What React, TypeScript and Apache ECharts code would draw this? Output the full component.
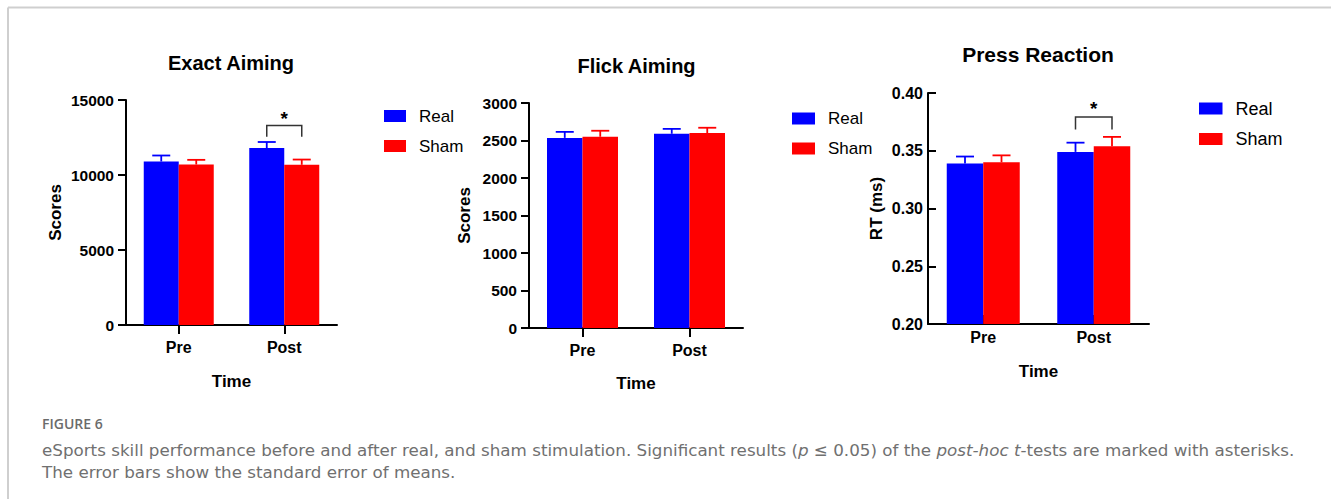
import React, { useEffect, useRef } from "react";
import * as echarts from "echarts";

const categories = ["Pre", "Post"];
const seriesNames = ["Real", "Sham"];

// Exact Aiming
const exactReal = [10900, 11800];
const exactRealSE = [400, 400];
const exactSham = [10700, 10680];
const exactShamSE = [310, 350];
// Flick Aiming
const flickReal = [2535, 2590];
const flickRealSE = [80, 65];
const flickSham = [2550, 2600];
const flickShamSE = [80, 70];
// Press Reaction
const pressReal = [0.339, 0.349];
const pressRealSE = [0.006, 0.008];
const pressSham = [0.34, 0.354];
const pressShamSE = [0.006, 0.008];

// significance brackets: [categoryIndex, bottom, top, asteriskLevel]
const exactBracket = [1, 12550, 13300, 13800];
const pressBracket = [1, 0.3684, 0.3793, 0.3868];

const titles = ["Exact Aiming", "Flick Aiming", "Press Reaction"];
const yNames = ["Scores", "Scores", "RT (ms)"];
const xName = "Time";

const captionLabel = "FIGURE 6";
const captionLine1Plain =
  "eSports skill performance before and after real, and sham stimulation. Significant results (p ≤ 0.05) of the post-hoc t-tests are marked with asterisks.";
const captionLine1Rich =
  "eSports skill performance before and after real, and sham stimulation. Significant results ({i|p} ≤ 0.05) of the {i|post-hoc} {i|t}-tests are marked with asterisks.";
const captionLine2 = "The error bars show the standard error of means.";

const FONT = '"Liberation Sans", Arial, Helvetica, sans-serif';
const CAP_FONT = '"DejaVu Sans", "Open Sans", sans-serif';
const BLUE = "#0000FF";
const RED = "#FF0000";

function fitCaptionSize(): number {
  try {
    const c = document.createElement("canvas");
    const ctx = c.getContext("2d");
    if (!ctx) return 16;
    ctx.font = '16px "DejaVu Sans"';
    const w = ctx.measureText(captionLine1Plain).width;
    if (!w) return 16;
    const fs = (16 * 1253) / w;
    return Math.max(14, Math.min(18, fs));
  } catch (e) {
    return 16;
  }
}

export default function App() {
  const ref = useRef<HTMLDivElement>(null);

  useEffect(() => {
    if (!ref.current) return;
    const chart = echarts.init(ref.current, undefined, { renderer: "svg" });
    const capFs = fitCaptionSize();

    const grids = [
      { left: 126, top: 100, width: 211, height: 225 },
      { left: 529, top: 103, width: 214, height: 225 },
      { left: 928, top: 93, width: 221, height: 231 },
    ];
    const barWidths = [35, 35.5, 36.5];
    const yCfg = [
      { min: 0, max: 15000, interval: 5000, fs: 15.5, margin: 12, inside: false, nameGap: 62, fmt: (v: number) => String(v) },
      { min: 0, max: 3000, interval: 500, fs: 15.5, margin: 12, inside: false, nameGap: 56, fmt: (v: number) => String(v) },
      { min: 0.2, max: 0.4, interval: 0.05, fs: 16, margin: 5, inside: true, nameGap: 43, fmt: (v: number) => v.toFixed(2) },
    ];
    const xCfg = [
      { margin: 14, nameGap: 48, inside: false },
      { margin: 14, nameGap: 47, inside: false },
      { margin: 5, nameGap: 39, inside: true },
    ];
    const realData = [exactReal, flickReal, pressReal];
    const realSE = [exactRealSE, flickRealSE, pressRealSE];
    const shamData = [exactSham, flickSham, pressSham];
    const shamSE = [exactShamSE, flickShamSE, pressShamSE];

    const xAxis = grids.map((_, i) => ({
      type: "category",
      gridIndex: i,
      data: categories,
      axisLine: { show: true, lineStyle: { color: "#000", width: 2 } },
      axisTick: { show: true, alignWithLabel: true, length: 9, inside: xCfg[i].inside, lineStyle: { color: "#000", width: 2 } },
      axisLabel: { fontSize: 16, fontWeight: "bold", color: "#000", fontFamily: FONT, margin: xCfg[i].margin },
      name: xName,
      nameLocation: "middle",
      nameGap: xCfg[i].nameGap,
      nameTextStyle: { fontSize: 17, fontWeight: "bold", color: "#000", fontFamily: FONT },
    }));

    const yAxis = grids.map((_, i) => ({
      type: "value",
      gridIndex: i,
      min: yCfg[i].min,
      max: yCfg[i].max,
      interval: yCfg[i].interval,
      splitLine: { show: false },
      axisLine: { show: true, lineStyle: { color: "#000", width: 2 } },
      axisTick: { show: true, length: 8, inside: yCfg[i].inside, lineStyle: { color: "#000", width: 2 } },
      axisLabel: {
        fontSize: yCfg[i].fs,
        fontWeight: "bold",
        color: "#000",
        fontFamily: FONT,
        margin: yCfg[i].margin,
        formatter: yCfg[i].fmt,
      },
      name: yNames[i],
      nameLocation: "middle",
      nameGap: yCfg[i].nameGap,
      nameTextStyle: { fontSize: 17, fontWeight: "bold", color: "#000", fontFamily: FONT },
    }));

    const series: any[] = [];
    grids.forEach((_, i) => {
      const bw = barWidths[i];
      series.push({
        type: "bar",
        name: seriesNames[0],
        xAxisIndex: i,
        yAxisIndex: i,
        data: realData[i],
        barWidth: bw,
        barGap: "0%",
        itemStyle: { color: BLUE },
      });
      series.push({
        type: "bar",
        name: seriesNames[1],
        xAxisIndex: i,
        yAxisIndex: i,
        data: shamData[i],
        barWidth: bw,
        barGap: "0%",
        itemStyle: { color: RED },
      });
      const mkErr = (vals: number[], ses: number[], color: string, offset: number) => ({
        type: "custom",
        name: "err",
        xAxisIndex: i,
        yAxisIndex: i,
        z: 5,
        data: vals.map((v, k) => [k, v, ses[k]]),
        renderItem: (_p: any, api: any) => {
          const k = api.value(0);
          const v = api.value(1);
          const se = api.value(2);
          const b = api.coord([k, v]);
          const t = api.coord([k, v + se]);
          const cx = b[0] + offset;
          return {
            type: "group",
            children: [
              { type: "line", shape: { x1: cx, y1: b[1], x2: cx, y2: t[1] }, style: { stroke: color, lineWidth: 1.8 } },
              { type: "line", shape: { x1: cx - 9, y1: t[1], x2: cx + 9, y2: t[1] }, style: { stroke: color, lineWidth: 1.8 } },
            ],
          };
        },
      });
      series.push(mkErr(realData[i], realSE[i], BLUE, -bw / 2));
      series.push(mkErr(shamData[i], shamSE[i], RED, bw / 2));
    });

    const mkBracket = (gi: number, br: number[]) => ({
      type: "custom",
      name: "sig",
      xAxisIndex: gi,
      yAxisIndex: gi,
      z: 6,
      data: [br],
      renderItem: (_p: any, api: any) => {
        const bw = barWidths[gi];
        const k = api.value(0);
        const b = api.coord([k, api.value(1)]);
        const t = api.coord([k, api.value(2)]);
        const s = api.coord([k, api.value(3)]);
        const xl = b[0] - bw / 2;
        const xr = b[0] + bw / 2;
        return {
          type: "group",
          children: [
            {
              type: "polyline",
              shape: { points: [[xl, b[1]], [xl, t[1]], [xr, t[1]], [xr, b[1]]] },
              style: { stroke: "#333", lineWidth: 1.5, fill: "none" },
            },
            {
              type: "text",
              x: b[0],
              y: s[1],
              style: { text: "*", fontSize: 19, fontWeight: "bold", fontFamily: FONT, fill: "#000", align: "center", verticalAlign: "middle" },
            },
          ],
        };
      },
    });
    series.push(mkBracket(0, exactBracket));
    series.push(mkBracket(2, pressBracket));

    const legendPos = [
      { left: 384, top: 107.5, fs: 17, w: 22, gap: 13 },
      { left: 792, top: 110, fs: 17, w: 23, gap: 13 },
      { left: 1199, top: 99.5, fs: 18, w: 23.5, gap: 12.5 },
    ];
    const legend = legendPos.map((p) => ({
      orient: "vertical",
      left: p.left,
      top: p.top,
      padding: 0,
      itemWidth: p.w,
      itemHeight: 12,
      itemGap: p.gap,
      icon: "rect",
      selectedMode: false,
      data: seriesNames,
      textStyle: { fontSize: p.fs, color: "#000", fontFamily: FONT, padding: [0, 0, 0, 8] },
    }));

    const titlePos = [
      { x: 231, y: 63, fs: 20 },
      { x: 636.5, y: 66, fs: 20 },
      { x: 1038, y: 54.5, fs: 21 },
    ];

    const capColor = "#707070";
    const graphic: any[] = [
      { type: "line", shape: { x1: 8, y1: 7.5, x2: 1331, y2: 7.5 }, style: { stroke: "#cfcfcf", lineWidth: 2 } },
      { type: "line", shape: { x1: 8, y1: 7.5, x2: 8, y2: 499 }, style: { stroke: "#cfcfcf", lineWidth: 2 } },
      ...titles.map((t, i) => ({
        type: "text",
        x: titlePos[i].x,
        y: titlePos[i].y,
        style: {
          text: t,
          fontSize: titlePos[i].fs,
          fontWeight: "bold",
          fontFamily: FONT,
          fill: "#000",
          align: "center",
          verticalAlign: "middle",
        },
      })),
      {
        type: "text",
        x: 42,
        y: 423,
        style: { text: captionLabel, fontSize: 14, fontWeight: 600, fontFamily: '"Open Sans", sans-serif', fill: "#6b6b6b", verticalAlign: "middle" },
      },
      {
        type: "text",
        x: 42,
        y: 450,
        style: {
          text: captionLine1Rich,
          fontSize: capFs,
          fontFamily: CAP_FONT,
          fill: capColor,
          verticalAlign: "middle",
          rich: { i: { fontStyle: "italic", fontSize: capFs, fontFamily: CAP_FONT, fill: capColor, color: capColor } },
        },
      },
      {
        type: "text",
        x: 42,
        y: 472,
        style: {
          text: captionLine2,
          fontSize: capFs,
          fontFamily: CAP_FONT,
          fill: capColor,
          verticalAlign: "middle",
        },
      },
    ];

    chart.setOption({
      animation: false,
      backgroundColor: "#fff",
      grid: grids,
      xAxis,
      yAxis,
      legend,
      series,
      graphic,
    });

    return () => chart.dispose();
  }, []);

  return (
    <div
      ref={ref}
      style={{ position: "fixed", left: 0, top: 0, width: 1331, height: 499, background: "#fff" }}
    />
  );
}
